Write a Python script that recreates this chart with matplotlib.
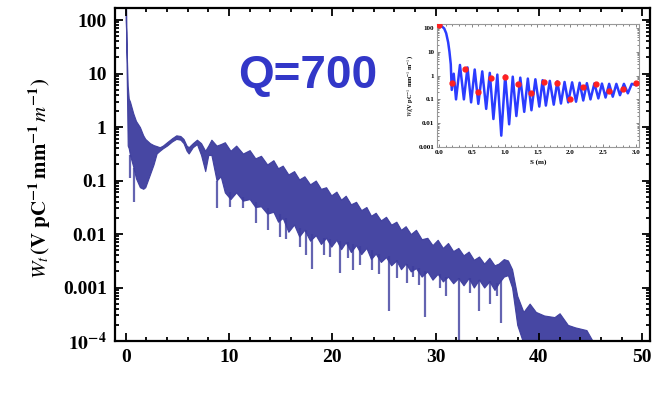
import numpy as np
import matplotlib
matplotlib.use("Agg")
import matplotlib.pyplot as plt
from matplotlib.ticker import FixedLocator, LogLocator, NullFormatter, MultipleLocator

plt.rcParams["mathtext.fontset"] = "stix"
plt.rcParams["font.family"] = "Liberation Serif"

# main wake: envelope of the dense oscillating trace
env_x = [0.0, 0.05, 0.1, 0.2, 0.3, 0.42, 0.74, 1.0, 1.38, 1.7, 1.9, 2.35, 2.7, 3.0, 3.3, 3.6,
         4.0, 4.5, 4.9, 5.3, 5.6, 5.9, 6.1, 6.5, 6.9, 7.3, 7.7, 8.0, 8.3, 8.8, 9.2,
         9.6, 10.15, 10.7, 11.35, 12.0, 12.55, 13.1, 13.7, 14.3, 14.75, 15.2, 15.75,
         16.3, 16.8, 17.3, 17.85, 18.4, 18.9, 19.4, 19.9, 20.4, 20.85, 21.3, 21.8,
         22.3, 22.8, 23.3, 23.75, 24.2, 24.7, 25.2, 25.7, 26.2, 26.65, 27.1, 27.6,
         28.1, 28.65, 29.2, 29.7, 30.2, 30.7, 31.2, 31.7, 32.2, 32.7, 33.2, 33.7,
         34.2, 34.7, 35.2, 35.7, 36.1, 36.6, 37.0, 37.4, 37.9, 38.5, 39.1, 39.7,
         40.5, 41.5, 42.0, 42.8, 43.5, 44.6, 45.2]
env_hi = [300, 150, 27, 6, 3.4, 3.0, 1.8, 1.3, 1.0, 0.7, 0.6, 0.5, 0.46, 0.44, 0.42, 0.45,
          0.52, 0.62, 0.70, 0.68, 0.6, 0.45, 0.42, 0.5, 0.58, 0.5, 0.36, 0.45, 0.58, 0.45, 0.48,
          0.52, 0.36, 0.45, 0.32, 0.37, 0.26, 0.29, 0.2, 0.24, 0.17, 0.19, 0.13,
          0.15, 0.105, 0.12, 0.085, 0.1, 0.07, 0.075, 0.053, 0.062, 0.044, 0.052, 0.036,
          0.04, 0.028, 0.032, 0.022, 0.025, 0.018, 0.021, 0.015, 0.017, 0.012, 0.014, 0.01,
          0.012, 0.008, 0.0085, 0.0062, 0.0078, 0.0055, 0.0068, 0.0048, 0.0055, 0.004, 0.0047, 0.0033,
          0.0038, 0.0028, 0.0036, 0.0026, 0.0028, 0.0034, 0.0032, 0.0022, 0.0007, 0.00035, 0.0005, 0.00035,
          0.0003, 0.00028, 0.00033, 0.0002, 0.00018, 0.00016, 0.0001]
env_lo = [100, 60, 10, 0.45, 0.4, 0.3, 0.18, 0.11, 0.075, 0.07, 0.075, 0.13, 0.2, 0.32, 0.36, 0.4,
          0.45, 0.54, 0.6, 0.58, 0.5, 0.36, 0.32, 0.42, 0.48, 0.3, 0.15, 0.3, 0.3, 0.1, 0.12,
          0.06, 0.045, 0.06, 0.042, 0.045, 0.032, 0.033, 0.024, 0.026, 0.017, 0.02, 0.011,
          0.015, 0.009, 0.012, 0.0075, 0.0095, 0.0065, 0.0085, 0.0058, 0.0078, 0.0052, 0.007, 0.0046,
          0.0062, 0.0042, 0.0055, 0.0034, 0.0043, 0.003, 0.0037, 0.0026, 0.0032, 0.0022, 0.0028, 0.002,
          0.0023, 0.0016, 0.002, 0.0014, 0.0018, 0.0013, 0.0016, 0.0012, 0.0015, 0.0011, 0.0015, 0.001,
          0.0014, 0.001, 0.0013, 0.0009, 0.0012, 0.0016, 0.0017, 0.001, 0.0002, 0.00009, 0.00009, 0.00009,
          0.00009, 0.00009, 0.00009, 0.00009, 0.00009, 0.00009, 0.00009]

# deep dropouts below the band
spike_x = [0.4, 0.8, 8.8, 10.1, 11.4, 12.6, 13.8, 14.9, 15.5, 16.9, 17.5, 18.0, 19.2, 19.8,
           20.7, 21.5, 22.0, 22.7, 23.8, 24.5, 25.5, 26.3, 27.2, 27.8, 28.4, 29.0, 30.4,
           31.0, 32.3, 33.3, 34.2, 35.3, 35.9, 36.3]
spike_lo = [0.11, 0.04, 0.03, 0.032, 0.03, 0.016, 0.012, 0.0087, 0.008, 0.0056, 0.004, 0.0022, 0.004, 0.0037,
            0.0019, 0.0035, 0.0021, 0.0026, 0.0021, 0.0018, 0.00037, 0.0015, 0.0012, 0.0016, 0.0011, 0.00028, 0.001,
            0.0007, 0.00009, 0.0008, 0.00037, 0.0005, 0.0007, 0.00022]
spike_top = [0.3, 0.17, 0.1, 0.06, 0.05, 0.04, 0.03, 0.024, 0.02, 0.013, 0.012, 0.01, 0.0085, 0.008,
             0.0075, 0.007, 0.0066, 0.006, 0.005, 0.0043, 0.0038, 0.0032, 0.0028, 0.0025, 0.0023, 0.002, 0.0018,
             0.0016, 0.0015, 0.0015, 0.0014, 0.0013, 0.0012, 0.0014]

main_yticks = [1e-4, 1e-3, 1e-2, 0.1, 1, 10, 100]
main_yticklabels = [r"$\mathbf{10^{-4}}$", "0.001", "0.01", "0.1", "1", "10", "100"]
main_xticks = [0, 10, 20, 30, 40, 50]

# inset: simulated wake, peaks and dips of the arches, plus red check points
ins_x = [0.0, 0.04, 0.08, 0.11, 0.14, 0.16, 0.18, 0.195, 0.225, 0.26,
         0.32, 0.38, 0.435, 0.49, 0.545, 0.60, 0.66, 0.72, 0.775, 0.83, 0.89, 0.95,
         1.01, 1.07, 1.125, 1.18, 1.24, 1.30, 1.355, 1.41, 1.47, 1.53, 1.58, 1.63,
         1.69, 1.75, 1.805, 1.86, 1.915, 1.97, 2.03, 2.09, 2.145, 2.20, 2.255, 2.31,
         2.37, 2.43, 2.485, 2.54, 2.595, 2.65, 2.705, 2.76, 2.82, 2.88, 2.94, 3.0]
ins_y = [130, 120, 95, 60, 25, 10, 3, 0.25, 1.2, 0.1,
         2.8, 0.1, 2.2, 0.075, 1.8, 0.065, 1.5, 0.04, 1.3, 0.015, 1.1, 0.003,
         1.0, 0.009, 0.9, 0.02, 0.82, 0.03, 0.75, 0.035, 0.7, 0.05, 0.64, 0.055,
         0.6, 0.06, 0.57, 0.067, 0.54, 0.075, 0.52, 0.08, 0.5, 0.09, 0.48, 0.1,
         0.47, 0.11, 0.46, 0.12, 0.45, 0.13, 0.45, 0.15, 0.45, 0.18, 0.45, 0.4]
pts_x = [0.0, 0.2, 0.4, 0.6, 0.8, 1.0, 1.2, 1.4, 1.6, 1.8, 2.0, 2.2, 2.4, 2.6, 2.8, 3.0]
pts_y = [130, 0.48, 1.9, 0.21, 0.8, 0.88, 0.45, 0.18, 0.55, 0.47, 0.105, 0.34, 0.44, 0.23, 0.27, 0.47]

W, H = 653, 405
fig = plt.figure(figsize=(W / 100, H / 100), dpi=100)
ax = fig.add_axes([115 / W, 1 - 341 / H, 535 / W, 333 / H])

wake_col = "#3d3d9e"
ax.fill_between(env_x, env_lo, env_hi, color=wake_col, lw=0.8, edgecolor=wake_col, alpha=0.95)
ax.vlines(spike_x, spike_lo, spike_top, color=wake_col, lw=1.6, alpha=0.8)

ax.set_yscale("log")
ax.set_xlim(-1.03, 50.75)
ax.set_ylim(1e-4, 168)
ax.set_xticks(main_xticks)
ax.set_xticklabels([str(t) for t in main_xticks])
ax.xaxis.set_minor_locator(MultipleLocator(2))
ax.yaxis.set_major_locator(FixedLocator(main_yticks))
ax.set_yticklabels(main_yticklabels)
ax.yaxis.set_minor_locator(LogLocator(base=10, subs=np.arange(2, 10)))
ax.yaxis.set_minor_formatter(NullFormatter())
ax.tick_params(which="both", direction="in", top=True, right=True, width=1.3, labelsize=14)
ax.tick_params(which="major", length=6, pad=6)
ax.tick_params(which="minor", length=3)
for lab in ax.get_xticklabels() + ax.get_yticklabels():
    lab.set_fontweight("bold")
for sp in ax.spines.values():
    sp.set_linewidth(1.6)

fig.text(40 / W, 1 - 178 / H,
         r"$\mathit{W_t}\,\mathbf{(V\ pC^{-1}\,mm^{-1}}\,\mathit{m}^{\mathbf{-1}}\mathbf{)}$",
         rotation=90, ha="center", va="center", fontsize=15)

fig.text(308 / W, 1 - 88 / H, "Q=700", ha="center", va="baseline", fontsize=33,
         fontweight="bold", family="Liberation Sans", color="#3237c8")

# inset
ins = fig.add_axes([437 / W, 1 - 147 / H, 202 / W, 123 / H])
ins.plot(ins_x, ins_y, color="#2b3cff", lw=1.8, zorder=2)
ins.plot(pts_x, pts_y, "o", color="#ff2020", ms=3.5, zorder=3)
ins.set_yscale("log")
ins.set_xlim(-0.03, 3.05)
ins.set_ylim(1e-3, 147)
ins.set_xticks([0, 0.5, 1.0, 1.5, 2.0, 2.5, 3.0])
ins.set_xticklabels(["0.0", "0.5", "1.0", "1.5", "2.0", "2.5", "3.0"])
ins.xaxis.set_minor_locator(MultipleLocator(0.1))
ins.yaxis.set_major_locator(FixedLocator([1e-3, 1e-2, 0.1, 1, 10, 100]))
ins.set_yticklabels(["0.001", "0.01", "0.1", "1", "10", "100"])
ins.yaxis.set_minor_locator(LogLocator(base=10, subs=np.arange(2, 10)))
ins.yaxis.set_minor_formatter(NullFormatter())
ins.tick_params(which="both", direction="in", top=True, right=True, width=0.5,
                labelsize=5, pad=2, color="#555555")
ins.tick_params(which="major", length=2.5)
ins.tick_params(which="minor", length=1.2)
for lab in ins.get_xticklabels() + ins.get_yticklabels():
    lab.set_fontweight("bold")
for sp in ins.spines.values():
    sp.set_color("#999999")
    sp.set_linewidth(0.8)
ins.set_xlabel("S (m)", fontsize=5, fontweight="bold", labelpad=3)
ins.set_ylabel(r"$W_t$(V pC$^{-1}$ mm$^{-1}$ m$^{-1}$)", fontsize=4.5, fontweight="bold", labelpad=2)

fig.savefig("out.png", dpi=100)
